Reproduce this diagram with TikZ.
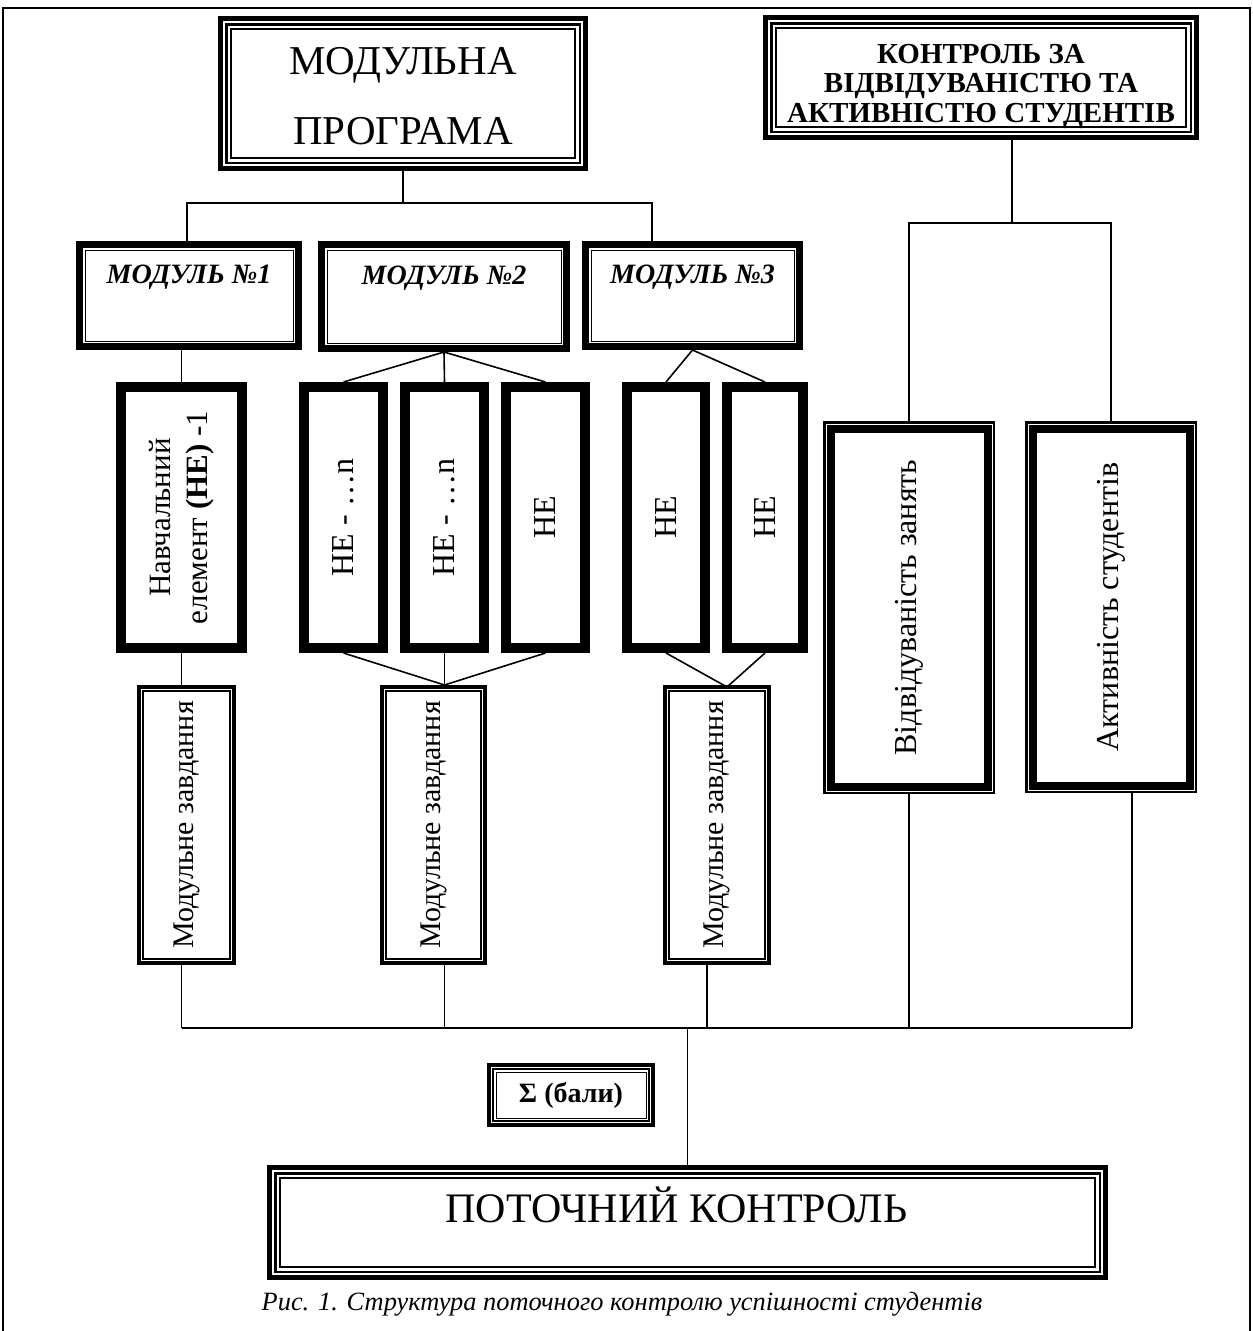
\documentclass[tikz,border=0pt]{standalone}
\usepackage{fontspec}
\setmainfont{Liberation Serif}
\usepackage{graphicx}
\newcommand\vtext[1]{\rotatebox{90}{#1}}
\newcommand\inrect[2]{\draw[line width=#2] ([shift={(#1,-#1)}]path picture bounding box.north west) rectangle ([shift={(-#1,#1)}]path picture bounding box.south east);}
\tikzset{
  conn/.style={line width=1.6pt},
  tribox/.style={draw, line width=5pt, fill=white, inner sep=0pt,
    path picture={\inrect{5.75pt}{2.5pt}\inrect{10.5pt}{1.3pt}}},
  modbox/.style={draw, line width=7pt, fill=white, inner sep=0pt,
    path picture={\inrect{5.5pt}{1pt}}},
  heavybox/.style={draw, line width=10pt, fill=white, inner sep=0pt},
  mzbox/.style={draw, line width=4pt, fill=white, inner sep=0pt,
    path picture={\inrect{4pt}{2pt}}},
  vdbox/.style={draw, line width=2.5pt, fill=white, inner sep=0pt,
    path picture={\inrect{6.25pt}{8pt}}},
  sumbox/.style={draw, line width=4pt, fill=white, inner sep=0pt,
    path picture={\inrect{4pt}{2pt}\inrect{7pt}{1pt}}},
  modtxt/.style={font=\fontsize{28}{32}\selectfont\bfseries\itshape, text height=0pt, text depth=25pt},
  rottxt/.style={font=\fontsize{32}{38}\selectfont},
}
\begin{document}
\begin{tikzpicture}[x=1pt,y=-1pt]
\useasboundingbox (0,0) rectangle (1253,1331);
\fill[white] (0,0) rectangle (1253,1331);
% frame
\draw[line width=1.5pt] (3,1331) -- (3,8) -- (1250,8) -- (1250,1331);

% top boxes
\node[tribox, minimum width=365pt, minimum height=150pt, align=center,
      font=\fontsize{41}{70}\selectfont, text height=102.5pt, text depth=0pt]
  (mp) at (403,93.5) {МОДУЛЬНА\\ПРОГРАМА};
\node[tribox, minimum width=431pt, minimum height=120pt, align=center,
      font=\fontsize{29}{29.5}\selectfont\bfseries, text height=89pt, text depth=0pt]
  (kt) at (981,77.5) {КОНТРОЛЬ ЗА\\ВІДВІДУВАНІСТЮ ТА\\АКТИВНІСТЮ СТУДЕНТІВ};

% modules
\node[modbox, modtxt, minimum width=219pt, minimum height=102pt] (m1) at (189,295.5) {МОДУЛЬ №1};
\node[modbox, modtxt, minimum width=245pt, minimum height=104pt] (m2) at (444,296.5) {МОДУЛЬ №2};
\node[modbox, modtxt, minimum width=214pt, minimum height=102pt] (m3) at (692.5,295.5) {МОДУЛЬ №3};

% learning elements
\node[heavybox, rottxt, minimum width=121pt, minimum height=261pt] (he1) at (181.5,517.5)
  {\vtext{\fontsize{31}{37}\selectfont\begin{tabular}{@{}c@{}}Навчальний\\елемент \textbf{(НЕ)} -1\end{tabular}}};
\node[heavybox, rottxt, minimum width=79pt, minimum height=261pt] (he2a) at (343.5,517.5) {\vtext{НЕ - …n}};
\node[heavybox, rottxt, minimum width=79pt, minimum height=261pt] (he2b) at (444.5,517.5) {\vtext{НЕ - …n}};
\node[heavybox, rottxt, minimum width=79pt, minimum height=261pt] (he2c) at (545.5,517.5) {\vtext{НЕ}};
\node[heavybox, rottxt, minimum width=78pt, minimum height=261pt] (he3a) at (666,517.5) {\vtext{НЕ}};
\node[heavybox, rottxt, minimum width=76pt, minimum height=261pt] (he3b) at (765,517.5) {\vtext{НЕ}};

% module tasks
\node[mzbox, font=\fontsize{30}{36}\selectfont, minimum width=95pt, minimum height=276pt] (mz1) at (186.5,825) {\vtext{Модульне завдання}};
\node[mzbox, font=\fontsize{30}{36}\selectfont, minimum width=103pt, minimum height=276pt] (mz2) at (433.5,825) {\vtext{Модульне завдання}};
\node[mzbox, font=\fontsize{30}{36}\selectfont, minimum width=104pt, minimum height=276pt] (mz3) at (717,825) {\vtext{Модульне завдання}};

% attendance / activity
\node[vdbox, rottxt, minimum width=169.5pt, minimum height=370.5pt] (vd) at (909,607.5) {\vtext{Відвідуваність занять}};
\node[vdbox, rottxt, minimum width=169.5pt, minimum height=369.5pt] (ak) at (1111,607) {\vtext{Активність студентів}};

% sum and final
\node[sumbox, minimum width=164pt, minimum height=60pt, font=\fontsize{28}{32}\selectfont\bfseries] (sum) at (571,1095) {Σ (бали)};
\node[tribox, minimum width=836pt, minimum height=110pt, font=\fontsize{42}{48}\selectfont,
      text height=30pt, text depth=30pt] (pk) at (687.5,1222.5) {ПОТОЧНИЙ КОНТРОЛЬ\hspace*{22pt}};

% caption
\node[font=\fontsize{26.4}{30}\selectfont\itshape, anchor=base, inner sep=0pt] (cap) at (622,1310)
  {Рис. 1. Структура поточного контролю успішності студентів};

% connectors: top tree
\coordinate (t0) at (403,203);
\coordinate (t1) at (187,203);
\coordinate (t3) at (652,203);
\draw[conn] (mp.south) -- (t0);
\draw[conn] (t1 |- m1.north) -- (t1) -- (t3) -- (t3 |- m3.north);

% module -> elements
\draw[conn] (he1.north |- m1.south) -- (he1.north);
\draw[conn] (m2.south) -- (he2a.north);
\draw[conn] (m2.south) -- (he2b.north);
\draw[conn] (m2.south) -- (he2c.north);
\draw[conn] (m3.south) -- (he3a.north);
\draw[conn] (m3.south) -- (he3b.north);

% elements -> module tasks
\draw[conn] (he1.south) -- (he1.south |- mz1.north);
\coordinate (v2) at (he2b.south |- mz2.north);
\draw[conn] (he2a.south) -- (v2) -- (he2c.south);
\draw[conn] (he2b.south) -- (v2);
\coordinate (v3) at (727,687);
\draw[conn] (he3a.south) -- (v3) -- (he3b.south);

% right tree
\coordinate (k0) at (1012,223);
\draw[conn] (k0 |- kt.south) -- (k0);
\draw[conn] (vd.north) -- (vd.north |- k0) -- (ak.north |- k0) -- (ak.north);

% bottom collector
\coordinate (bl) at (0,1028);
\coordinate (d3) at (707,963);
\coordinate (d5) at (1132,0);
\draw[conn] (he1.south |- mz1.south) -- (he1.south |- bl);
\draw[conn] (v2 |- mz2.south) -- (v2 |- bl);
\draw[conn] (d3) -- (d3 |- bl);
\draw[conn] (vd.south) -- (vd.south |- bl);
\draw[conn] (d5 |- ak.south) -- (d5 |- bl);
\draw[conn] (he1.south |- bl) -- (d5 |- bl);
\coordinate (s) at (687.5,1028);
\draw[conn] (s) -- (pk.north);
\end{tikzpicture}
\end{document}
